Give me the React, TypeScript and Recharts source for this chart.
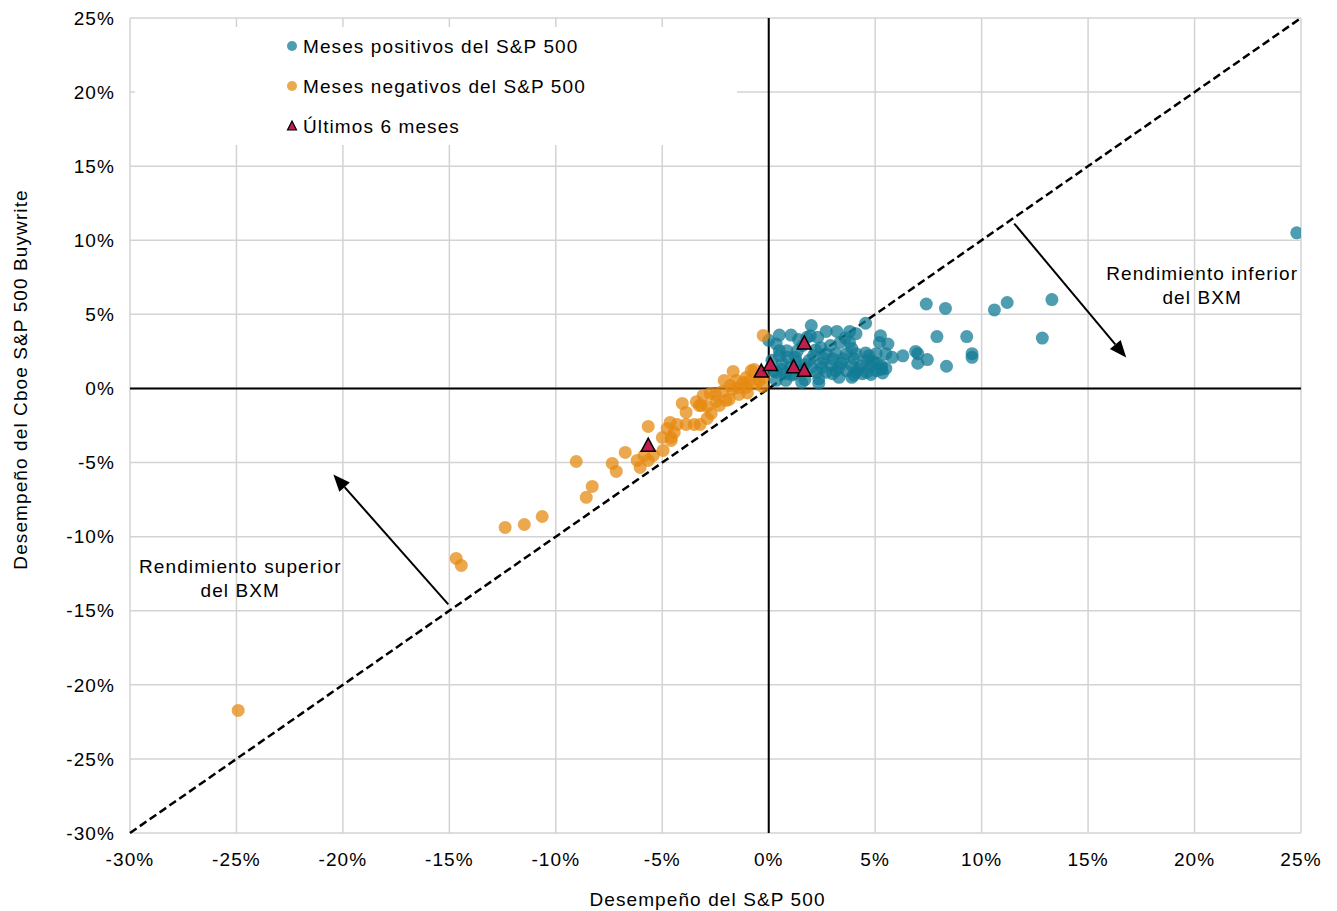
import React from 'react';
import {
  ScatterChart, Scatter, XAxis, YAxis, CartesianGrid, ReferenceLine, ReferenceDot, Legend,
} from 'recharts';

const xTicks = [-30, -25, -20, -15, -10, -5, 0, 5, 10, 15, 20, 25];
const yTicks = [-30, -25, -20, -15, -10, -5, 0, 5, 10, 15, 20, 25];

const seriesNames = ['Meses positivos del S&P 500', 'Meses negativos del S&P 500', 'Últimos 6 meses'];
const xTitle = 'Desempeño del S&P 500';
const yTitle = 'Desempeño del Cboe S&P 500 Buywrite';
const upperNote = ['Rendimiento inferior', 'del BXM'];
const lowerNote = ['Rendimiento superior', 'del BXM'];

// [S&P 500 %, BXM %]
const positiveMonths: [number, number][] = [
  [24.8, 10.5], [13.3, 6.0], [12.85, 3.4], [11.2, 5.8], [10.6, 5.3], [8.3, 5.4], [7.4, 5.7],
  [7.9, 3.5], [9.3, 3.5], [9.55, 2.35], [9.55, 2.1], [8.35, 1.5], [7.45, 1.95], [7.0, 1.7],
  [7.0, 2.35], [6.9, 2.5], [6.3, 2.2], [5.8, 2.1], [5.6, 3.0], [5.25, 3.55], [4.55, 4.4],
  [2.0, 4.25], [0.5, 3.6], [1.05, 3.6], [1.8, 3.45], [2.3, 3.45], [2.7, 3.85], [3.2, 3.85],
  [3.35, 3.1], [3.8, 3.1], [5.2, 3.1], [0.35, 3.0], [0.5, 2.55], [0.85, 2.55], [1.35, 2.55],
  [2.45, 2.75], [2.7, 2.35], [3.15, 2.35], [3.65, 2.35], [4.1, 2.35], [4.55, 2.4], [5.05, 2.35],
  [5.5, 2.35], [0.15, 1.9], [0.65, 1.7], [1.9, 1.9], [2.45, 1.7], [2.95, 1.55], [3.4, 1.7],
  [3.9, 1.55], [4.35, 1.55], [4.8, 1.55], [5.3, 1.55], [0.35, 1.1], [0.8, 1.0], [2.25, 1.1],
  [2.7, 1.1], [3.15, 1.2], [3.65, 1.2], [4.1, 1.1], [4.6, 1.1], [5.05, 1.2], [5.5, 1.35],
  [0.35, 0.55], [0.8, 0.55], [2.35, 0.65], [3.3, 0.75], [3.9, 0.75], [1.55, 0.4], [2.35, 0.35],
  [0.0, 3.25], [4.7, 2.2], [5.1, 1.7], [5.3, 1.3], [5.35, 1.05], [4.8, 0.95], [1.7, 0.6],
  [3.8, 3.85], [4.1, 3.7], [1.25, 2.1], [1.6, 2.9], [2.9, 2.9], [1.5, 1.3], [1.0, 1.4],
  [0.6, 1.3], [1.3, 1.8], [2.1, 2.2], [3.0, 2.0], [4.0, 2.0], [4.4, 1.0], [2.0, 1.4],
  [0.2, 1.2], [0.9, 2.1], [1.1, 0.9], [3.6, 3.4], [1.95, 3.55], [1.4, 3.3],
  [2.5, 1.4], [3.3, 1.4], [4.2, 1.3], [4.6, 1.9], [3.5, 2.0], [2.6, 2.0], [1.7, 1.6],
  [0.5, 2.2], [3.0, 1.0], [4.0, 0.9], [1.2, 1.0], [2.2, 2.6], [3.9, 2.7], [4.9, 1.8],
];

const negativeMonths: [number, number][] = [
  [-24.92, -21.73], [-14.68, -11.47], [-14.44, -11.94], [-12.38, -9.38], [-11.48, -9.18],
  [-10.64, -8.64], [-9.04, -4.93], [-8.57, -7.35], [-8.29, -6.61], [-7.35, -5.06], [-7.16, -5.6],
  [-6.74, -4.32], [-6.18, -4.86], [-6.04, -5.33], [-5.85, -4.52], [-5.66, -4.86], [-5.42, -4.52],
  [-5.66, -2.56], [-4.96, -4.18], [-5.0, -3.31], [-4.58, -3.31], [-4.77, -2.7], [-4.44, -2.97],
  [-4.63, -2.29], [-4.3, -2.43], [-3.88, -2.43], [-3.5, -2.43], [-3.22, -2.43], [-4.06, -1.01],
  [-3.88, -1.62], [-2.7, -1.69], [-2.89, -2.02], [-3.17, -1.15], [-2.89, -1.21], [-2.47, -0.88],
  [-2.32, -1.15], [-2.0, -0.81], [-3.08, -0.47], [-2.75, -0.34], [-2.18, -0.2], [-1.71, -0.07],
  [-1.39, 0.07], [-1.06, 0.07], [-1.53, 0.54], [-1.67, 1.15], [-1.06, 0.74], [-0.82, 1.21],
  [-0.26, 3.58], [-0.31, 0.13], [-0.26, 0.74], [-0.68, 1.28], [-2.09, 0.54], [-1.86, -0.74],
  [-3.26, -1.15], [-4.58, -3.51], [-0.45, 0.54], [-1.2, 0.4], [-0.6, 0.3], [-1.0, -0.3],
  [-1.4, -0.4], [-0.9, 0.5], [-1.8, 0.2], [-2.5, -0.4], [-3.4, -0.9],
];

const lastSixMonths: [number, number][] = [
  [-5.66, -3.9], [-0.35, 1.1], [0.08, 1.55], [1.67, 3.0], [1.17, 1.4], [1.67, 1.15],
];

const parityLine = [{ x: -30, y: -30 }, { x: 25, y: 25 }];
const upperArrow = [{ x: 11.53, y: 11.13 }, { x: 16.79, y: 2.09 }];
const lowerArrow = [{ x: -15.05, y: -14.57 }, { x: -20.45, y: -5.8 }];
const upperNotePos = { x: 20.36, y: 7.76 };
const lowerNotePos = { x: -24.82, y: -12.0 };

const toPoints = (arr: [number, number][]) => arr.map(([x, y]) => ({ x, y }));

const FONT = 'Liberation Sans, Arial, sans-serif';
const TEAL = '#127b94';
const ORANGE = '#e68a10';
const CRIMSON = '#c21d50';

const circle = (color: string) => (p: any) => (
  <circle cx={p.cx} cy={p.cy} r={6.5} fill={color} fillOpacity={0.74} />
);

const triangle = (p: any) => {
  const { cx, cy } = p;
  const h = 13, w = 7;
  return (
    <polygon
      points={`${cx},${cy - h * 0.62} ${cx + w},${cy + h * 0.38} ${cx - w},${cy + h * 0.38}`}
      fill={CRIMSON}
      stroke="#000"
      strokeWidth={1.5}
      strokeLinejoin="miter"
    />
  );
};

const arrowShape = (p: any) => {
  const { x1, y1, x2, y2 } = p;
  const ang = Math.atan2(y2 - y1, x2 - x1);
  const L = 17, W = 7;
  const c = Math.cos(ang), s = Math.sin(ang);
  const bx = x2 - L * c, by = y2 - L * s;
  return (
    <g>
      <line x1={x1} y1={y1} x2={bx} y2={by} stroke="#000" strokeWidth={2} />
      <polygon points={`${x2},${y2} ${bx + W * s},${by - W * c} ${bx - W * s},${by + W * c}`} fill="#000" />
    </g>
  );
};

const dashedShape = (p: any) => (
  <line x1={p.x1} y1={p.y1} x2={p.x2} y2={p.y2} stroke="#000" strokeWidth={2.5} strokeDasharray="8 4" />
);

const noteLabel = (lines: string[]) => (props: any) => {
  const vb = props.viewBox || { x: props.x, y: props.y, width: 0, height: 0 };
  const cx = vb.x + (vb.width || 0) / 2;
  const cy = vb.y + (vb.height || 0) / 2;
  return (
    <text x={cx} y={cy} textAnchor="middle" fontFamily={FONT} fontSize={19} letterSpacing={1.1} fill="#000">
      {lines.map((l, i) => (
        <tspan key={i} x={cx} y={cy + 7 + i * 24}>{l}</tspan>
      ))}
    </text>
  );
};

const xLabel = (props: any) => {
  const vb = props.viewBox;
  return (
    <text x={vb.x + vb.width / 2 - 8} y={vb.y + vb.height - 5} textAnchor="middle" fontFamily={FONT} fontSize={19} letterSpacing={1.1} fill="#000">
      {xTitle}
    </text>
  );
};

const yLabel = (props: any) => {
  const vb = props.viewBox;
  const cx = vb.x + 27;
  const cy = vb.y + vb.height / 2 - 46;
  return (
    <text x={cx} y={cy} textAnchor="middle" transform={`rotate(-90, ${cx}, ${cy})`} fontFamily={FONT} fontSize={19} letterSpacing={1.1} fill="#000">
      {yTitle}
    </text>
  );
};

const legendMarkers = ['circle-teal', 'circle-orange', 'triangle'];

const renderLegend = () => (
  <svg width={602} height={118} style={{ display: 'block', background: '#fff' }}>
    {seriesNames.map((name, i) => {
      const y = 19 + i * 40;
      const m = legendMarkers[i];
      return (
        <g key={name}>
          {m === 'triangle' ? (
            <polygon points={`${157},${y - 5} ${161.5},${y + 4} ${152.5},${y + 4}`} fill={CRIMSON} stroke="#000" strokeWidth={1.2} />
          ) : (
            <circle cx={157} cy={y} r={5} fill={m === 'circle-teal' ? TEAL : ORANGE} fillOpacity={0.74} />
          )}
          <text x={168} y={y + 7} fontFamily={FONT} fontSize={19} letterSpacing={1.1} fill="#000">{name}</text>
        </g>
      );
    })}
  </svg>
);

export default function App() {
  return (
    <div style={{ position: 'absolute', left: 0, top: 0, width: 1337, height: 911, background: '#fff' }}>
      <ScatterChart width={1337} height={911} margin={{ top: 18, right: 36, bottom: 0, left: 0 }}>
        <CartesianGrid stroke="#d3d3d3" strokeWidth={1.5} />
        <XAxis
          type="number"
          dataKey="x"
          domain={[-30, 25]}
          ticks={xTicks}
          tickFormatter={(v: number) => `${v}%`}
          axisLine={false}
          tickLine={false}
          tickSize={0}
          tickMargin={20}
          height={78}
          tick={{ fontFamily: FONT, fontSize: 19, fill: '#000', letterSpacing: 1.1 }}
          interval={0}
          allowDataOverflow
          label={{ content: xLabel }}
        />
        <YAxis
          type="number"
          dataKey="y"
          domain={[-30, 25]}
          ticks={yTicks}
          tickFormatter={(v: number) => `${v}%`}
          axisLine={false}
          tickLine={false}
          tickSize={0}
          tickMargin={15}
          width={130}
          tick={{ fontFamily: FONT, fontSize: 19, fill: '#000', letterSpacing: 1.1 }}
          interval={0}
          allowDataOverflow
          label={{ content: yLabel }}
        />
        <ReferenceLine x={0} stroke="#000" strokeWidth={2} />
        <ReferenceLine y={0} stroke="#000" strokeWidth={2} />
        <Scatter name={seriesNames[0]} data={toPoints(positiveMonths)} shape={circle(TEAL)} isAnimationActive={false} />
        <Scatter name={seriesNames[1]} data={toPoints(negativeMonths)} shape={circle(ORANGE)} isAnimationActive={false} />
        <ReferenceLine segment={parityLine} shape={dashedShape} />
        <Scatter name={seriesNames[2]} data={toPoints(lastSixMonths)} shape={triangle} isAnimationActive={false} />
        <ReferenceLine segment={upperArrow} shape={arrowShape} />
        <ReferenceLine segment={lowerArrow} shape={arrowShape} />
        <ReferenceDot x={upperNotePos.x} y={upperNotePos.y} r={0} fill="none" stroke="none" label={{ content: noteLabel(upperNote) }} />
        <ReferenceDot x={lowerNotePos.x} y={lowerNotePos.y} r={0} fill="none" stroke="none" label={{ content: noteLabel(lowerNote) }} />
        <Legend
          layout="vertical"
          align="center"
          verticalAlign="middle"
          content={renderLegend}
          wrapperStyle={{ left: 135, top: 27, width: 602, height: 118 }}
        />
      </ScatterChart>
    </div>
  );
}
